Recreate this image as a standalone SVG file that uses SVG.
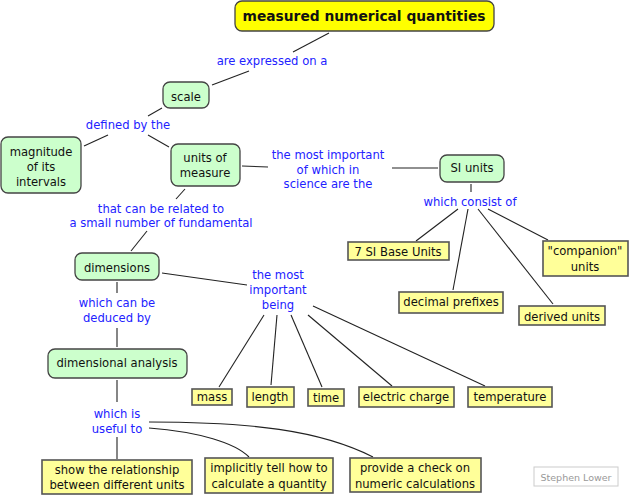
<svg xmlns="http://www.w3.org/2000/svg" width="630" height="496" viewBox="0 0 630 496">
<style>
text{font-family:"DejaVu Sans",Verdana,sans-serif;font-size:11.6px;text-anchor:middle}
.t{fill:#111}
.lp{fill:#2222ff}
.g{fill:#ccffcc;stroke:#444;stroke-width:1.3}
.y{fill:#ffff99;stroke:#555;stroke-width:1.6}
.c path{fill:none;stroke:#222;stroke-width:1.1}
</style>
<rect width="630" height="496" fill="#fff"/>
<g class="c" id="connectors">
<path d="M329,33 L293,52"/>
<path d="M249,71 L212,85"/>
<path d="M162,108 L148,116"/>
<path d="M108,135 L84,146"/>
<path d="M148,135 L169,147"/>
<path d="M242,166 L268,167"/>
<path d="M392,168 L438,168"/>
<path d="M471,184 L471,192"/>
<path d="M458,209 L416,241"/>
<path d="M468,209 L453,290"/>
<path d="M478,209 L553,304"/>
<path d="M488,209 L548,240"/>
<path d="M185,189 L176,199"/>
<path d="M147,231 L131,251"/>
<path d="M162,273 L247,285"/>
<path d="M117,282 L117,293"/>
<path d="M117,328 L117,347"/>
<path d="M117,380 L117,402"/>
<path d="M264,315 L219,387"/>
<path d="M277,315 L271,385"/>
<path d="M291,315 L322,387"/>
<path d="M308,315 L392,386"/>
<path d="M313,306 L485,386"/>
<path d="M117,437 L117,459"/>
<path d="M149,428 C200,432 235,443 249,457"/>
<path d="M149,422 C250,422 320,430 373,457"/>
</g>
<g id="n-title"><rect x="235" y="1" width="259" height="30" rx="7" fill="#ffff00" stroke="#444" stroke-width="1.3"/><text x="364" y="21" class="t" style="font-weight:bold;font-size:13.8px">measured numerical quantities</text></g>
<g id="n-scale"><rect x="163" y="82" width="46" height="26" rx="7" class="g"/><text x="186" y="101" class="t">scale</text></g>
<g id="n-magnitude"><rect x="1" y="137" width="80" height="56" rx="7" class="g"/><text x="41" y="156" class="t">magnitude</text><text x="41" y="171" class="t">of its</text><text x="41" y="186" class="t">intervals</text></g>
<g id="n-units"><rect x="171" y="144" width="69" height="42" rx="7" class="g"/><text x="205" y="162" class="t">units of</text><text x="205" y="177" class="t">measure</text></g>
<g id="n-si"><rect x="440" y="155" width="64" height="27" rx="7" class="g"/><text x="472" y="172" class="t">SI units</text></g>
<g id="n-base"><rect x="348" y="242" width="101" height="18" class="y"/><text x="398" y="256" class="t">7 SI Base Units</text></g>
<g id="n-companion"><rect x="543" y="241" width="85" height="35" class="y"/><text x="585" y="255" class="t">"companion"</text><text x="585" y="271" class="t">units</text></g>
<g id="n-prefixes"><rect x="399" y="292" width="104" height="21" class="y"/><text x="451" y="306" class="t">decimal prefixes</text></g>
<g id="n-derived"><rect x="519" y="306" width="86" height="19" class="y"/><text x="562" y="321" class="t">derived units</text></g>
<g id="n-dimensions"><rect x="75" y="253" width="84" height="27" rx="7" class="g"/><text x="117" y="272" class="t">dimensions</text></g>
<g id="n-analysis"><rect x="48" y="349" width="139" height="29" rx="7" class="g"/><text x="117" y="367" class="t">dimensional analysis</text></g>
<g id="n-mass"><rect x="192" y="389" width="40" height="16" class="y"/><text x="212" y="401" class="t">mass</text></g>
<g id="n-length"><rect x="247" y="387" width="47" height="20" class="y"/><text x="270" y="401" class="t">length</text></g>
<g id="n-time"><rect x="308" y="389" width="36" height="17" class="y"/><text x="326" y="402" class="t">time</text></g>
<g id="n-charge"><rect x="359" y="387" width="95" height="20" class="y"/><text x="406" y="401" class="t">electric charge</text></g>
<g id="n-temp"><rect x="468" y="387" width="84" height="20" class="y"/><text x="510" y="401" class="t">temperature</text></g>
<g id="n-show"><rect x="42" y="460" width="150" height="34" class="y"/><text x="117" y="474" class="t">show the relationship</text><text x="117" y="489" class="t">between different units</text></g>
<g id="n-implicit"><rect x="205" y="458" width="128" height="35" class="y"/><text x="269" y="472" class="t">implicitly tell how to</text><text x="269" y="488" class="t">calculate a quantity</text></g>
<g id="n-provide"><rect x="350" y="458" width="131" height="34" class="y"/><text x="415" y="472" class="t">provide a check on</text><text x="415" y="488" class="t">numeric calculations</text></g>
<g id="credit"><rect x="534" y="467" width="84" height="19" fill="#fff" stroke="#ccc" stroke-width="1"/><text x="576" y="480.5" style="font-size:9.5px;fill:#999">Stephen Lower</text></g>
<g id="linking-phrases">
<text x="272" y="65" class="lp">are expressed on a</text>
<text x="128" y="129" class="lp">defined by the</text>
<text x="328" y="159" class="lp">the most important</text>
<text x="328" y="174" class="lp">of which in</text>
<text x="328" y="188" class="lp">science are the</text>
<text x="470" y="206" class="lp">which consist of</text>
<text x="161" y="213" class="lp">that can be related to</text>
<text x="161" y="227" class="lp">a small number of fundamental</text>
<text x="117" y="307" class="lp">which can be</text>
<text x="117" y="322" class="lp">deduced by</text>
<text x="278" y="279" class="lp">the most</text>
<text x="278" y="294" class="lp">important</text>
<text x="278" y="309" class="lp">being</text>
<text x="117" y="418" class="lp">which is</text>
<text x="117" y="433" class="lp">useful to</text>
</g>
</svg>
